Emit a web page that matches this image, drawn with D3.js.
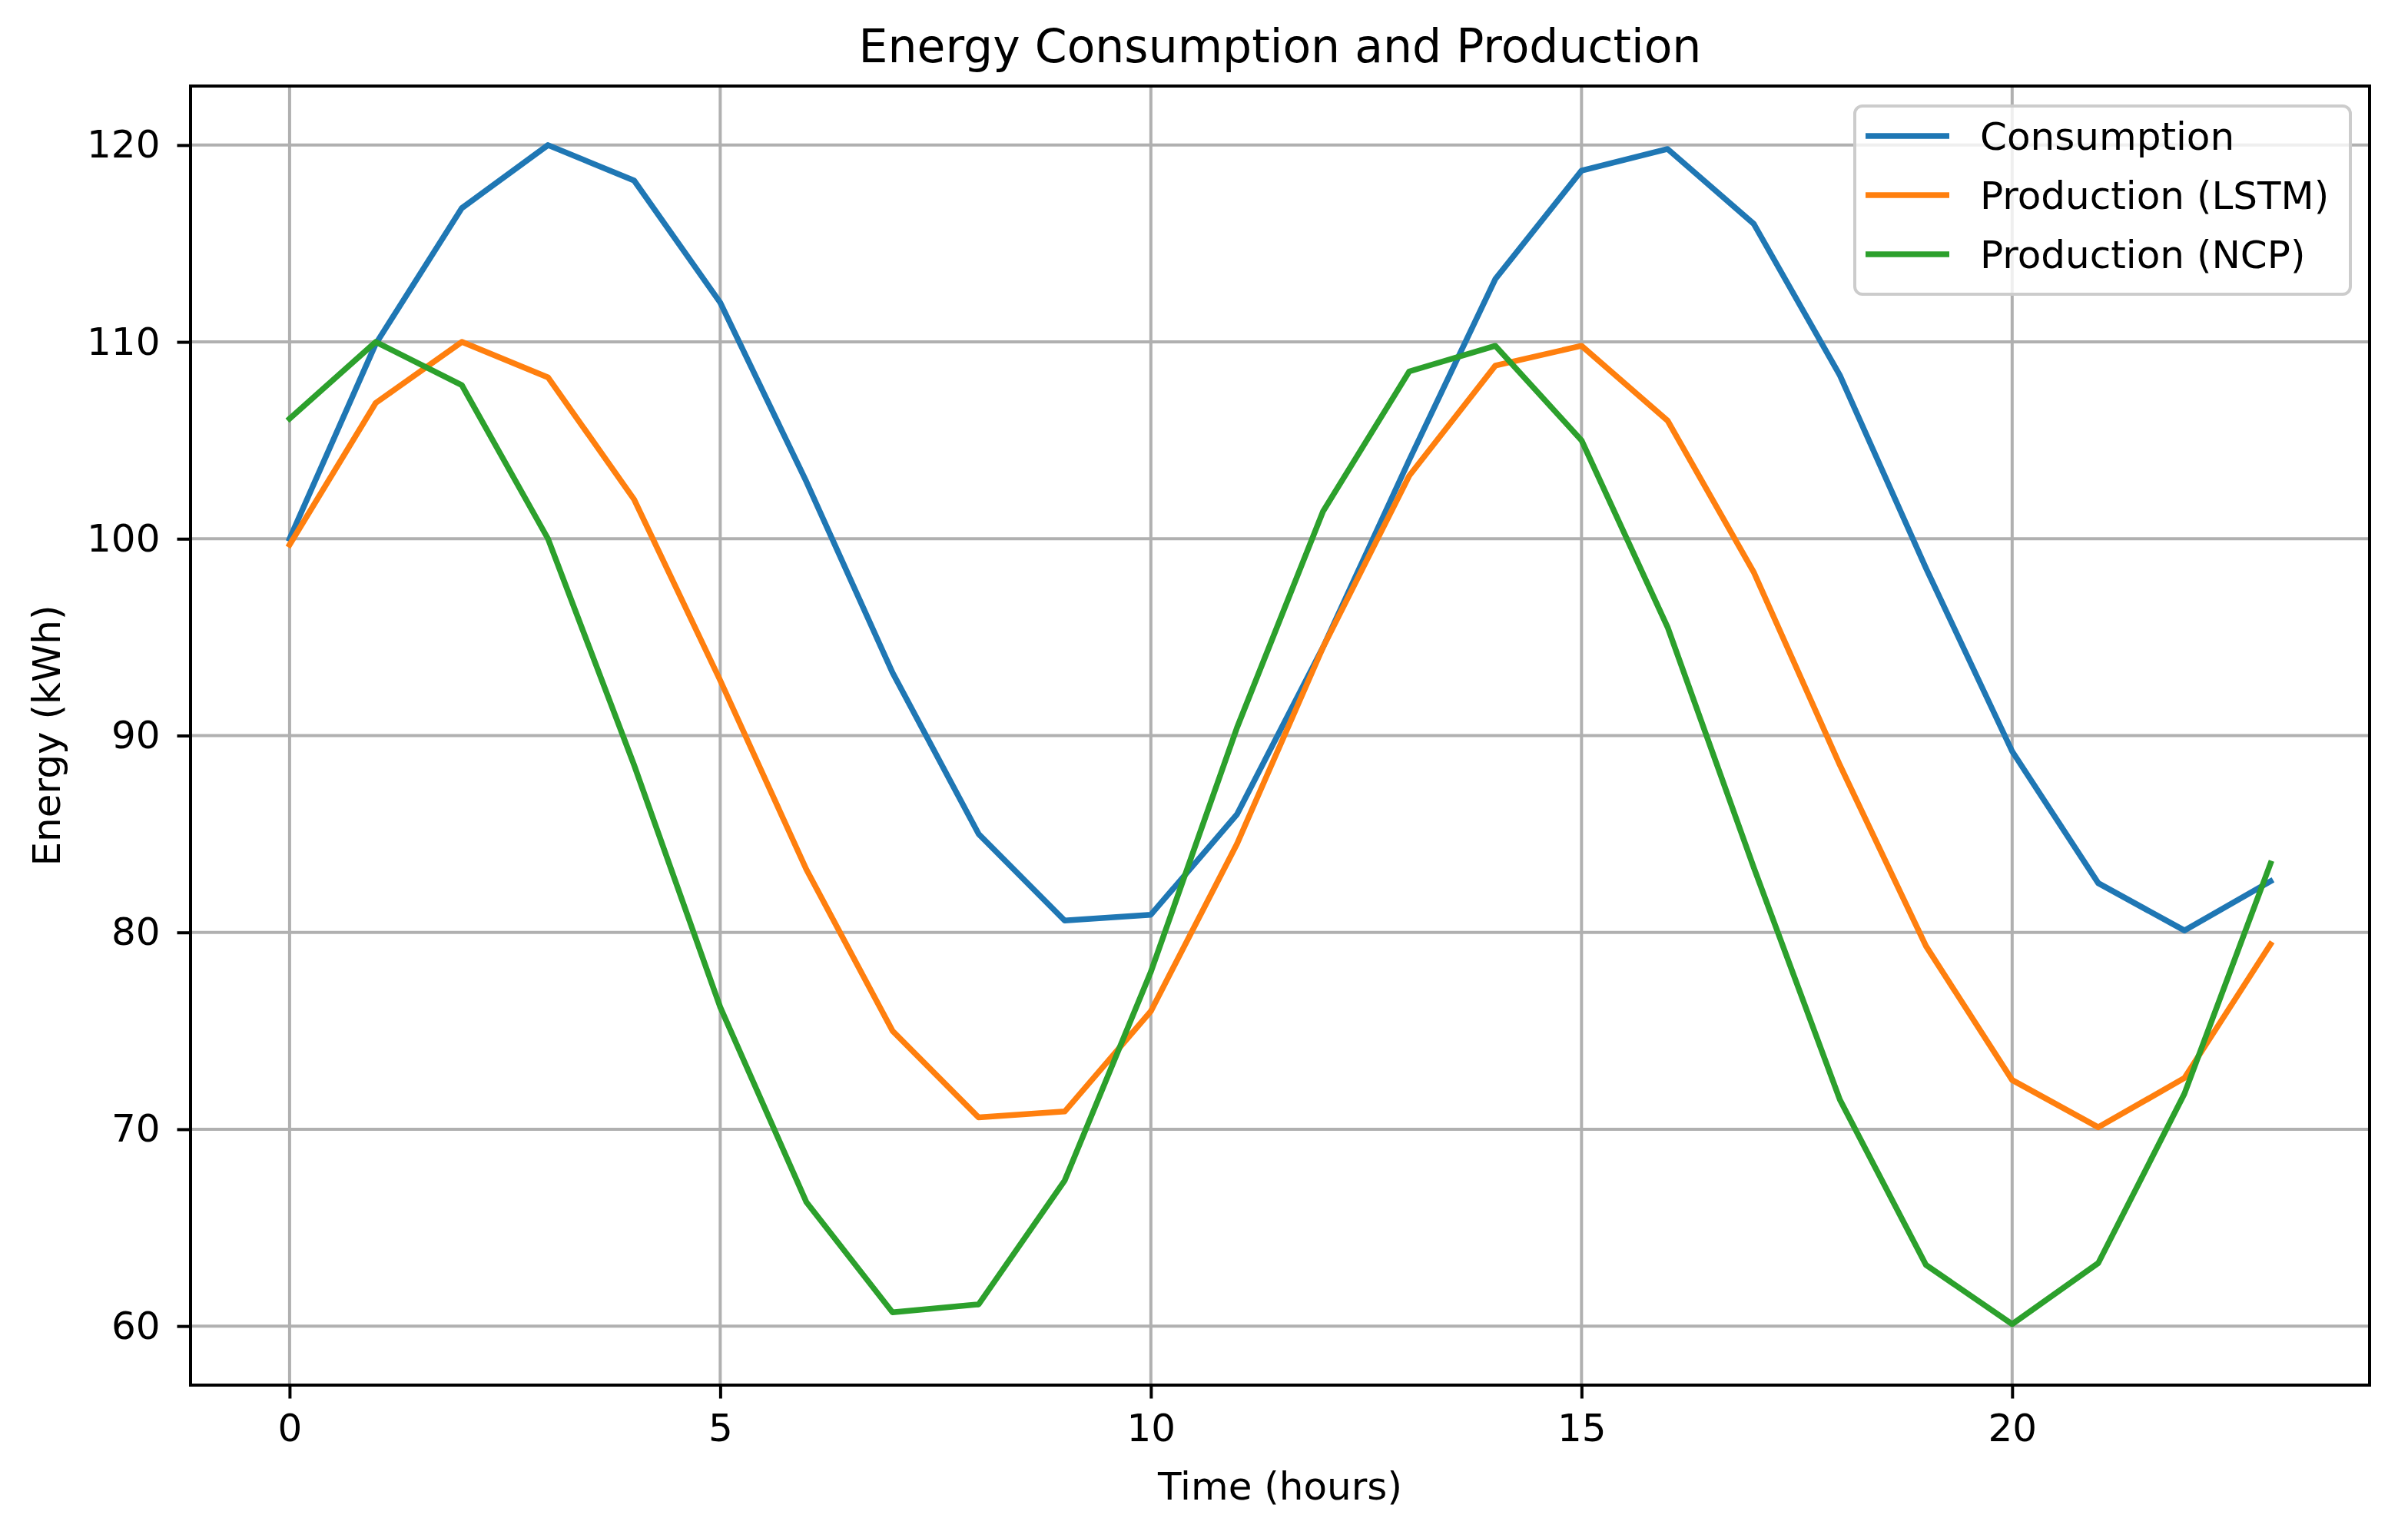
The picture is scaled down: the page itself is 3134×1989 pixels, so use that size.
<!DOCTYPE html>
<html>
<head>
<meta charset="utf-8">
<script src="https://cdn.jsdelivr.net/npm/d3@7"></script>
<style>
  body { margin: 0; background: #fff; }
  text { font-family: "DejaVu Sans", sans-serif; fill: #000; }
</style>
</head>
<body>
<div id="chart"></div>
<script>
const hours = d3.range(0, 24);
const consumption = [100, 109.9, 116.8, 120, 118.2, 112, 102.9, 93.2, 85, 80.6, 80.9, 86,
  94.5, 104, 113.2, 118.7, 119.8, 116, 108.3, 98.5, 89.2, 82.5, 80.1, 82.6];
const productionLSTM = [99.7, 106.9, 110, 108.2, 102, 92.8, 83.2, 75, 70.6, 70.9, 76, 84.5,
  94.5, 103.2, 108.8, 109.8, 106, 98.3, 88.5, 79.3, 72.5, 70.1, 72.6, 79.4];
const productionNCP = [106.1, 110, 107.8, 100, 88.5, 76.2, 66.3, 60.7, 61.1, 67.4, 78, 90.4,
  101.4, 108.5, 109.8, 105, 95.5, 83.3, 71.5, 63.1, 60.1, 63.2, 71.8, 83.5];
const seriesNames = ["Consumption", "Production (LSTM)", "Production (NCP)"];
const seriesColors = ["#1f77b4", "#ff7f0e", "#2ca02c"];
const xTicks = [0, 5, 10, 15, 20];
const yTicks = [60, 70, 80, 90, 100, 110, 120];

const width = 3134, height = 1989;
const margin = { left: 248, right: 50, top: 112, bottom: 186 };

const svg = d3.select("#chart")
  .append("svg")
  .attr("width", width)
  .attr("height", height);

const x = d3.scaleLinear().domain([-1.15, 24.15]).range([margin.left, width - margin.right]);
const y = d3.scaleLinear().domain([57, 123]).range([height - margin.bottom, margin.top]);

// grid
svg.append("g")
  .selectAll("line")
  .data(xTicks)
  .enter()
  .append("line")
  .attr("x1", d => x(d)).attr("x2", d => x(d))
  .attr("y1", margin.top).attr("y2", height - margin.bottom)
  .attr("stroke", "#b0b0b0").attr("stroke-width", 4);

svg.append("g")
  .selectAll("line")
  .data(yTicks)
  .enter()
  .append("line")
  .attr("x1", margin.left).attr("x2", width - margin.right)
  .attr("y1", d => y(d)).attr("y2", d => y(d))
  .attr("stroke", "#b0b0b0").attr("stroke-width", 4);

// lines
const series = [consumption, productionLSTM, productionNCP];
const line = d3.line().x((d, i) => x(hours[i])).y(d => y(d));

svg.append("g")
  .selectAll("path")
  .data(series)
  .enter()
  .append("path")
  .attr("d", line)
  .attr("fill", "none")
  .attr("stroke", (d, i) => seriesColors[i])
  .attr("stroke-width", 7.5)
  .attr("stroke-linejoin", "round")
  .attr("stroke-linecap", "square");

// axes
const xAxis = svg.append("g")
  .attr("transform", `translate(0, ${height - margin.bottom})`)
  .call(d3.axisBottom(x).tickValues(xTicks).tickSize(17.5).tickPadding(20));

const yAxis = svg.append("g")
  .attr("transform", `translate(${margin.left}, 0)`)
  .call(d3.axisLeft(y).tickValues(yTicks).tickSize(17.5).tickPadding(22));

[xAxis, yAxis].forEach(a => {
  a.select(".domain").remove();
  a.selectAll(".tick line").attr("stroke", "#000").attr("stroke-width", 4);
  a.selectAll(".tick text").style("font-size", "50px").style("font-family", "DejaVu Sans");
});

// frame
svg.append("rect")
  .attr("x", margin.left).attr("y", margin.top)
  .attr("width", width - margin.right - margin.left)
  .attr("height", height - margin.bottom - margin.top)
  .attr("fill", "none").attr("stroke", "#000").attr("stroke-width", 4);

// title and labels
svg.append("text")
  .attr("text-anchor", "middle")
  .attr("x", (margin.left + width - margin.right) / 2)
  .attr("y", 81)
  .style("font-size", "60px")
  .text("Energy Consumption and Production");

svg.append("text")
  .attr("text-anchor", "middle")
  .attr("x", (margin.left + width - margin.right) / 2)
  .attr("y", 1952)
  .style("font-size", "50px")
  .text("Time (hours)");

svg.append("text")
  .attr("text-anchor", "middle")
  .attr("transform", `translate(78, ${(margin.top + height - margin.bottom) / 2}) rotate(-90)`)
  .style("font-size", "50px")
  .text("Energy (kWh)");

// legend
const legend = svg.append("g").attr("transform", "translate(2414, 138)");
legend.append("rect")
  .attr("width", 645).attr("height", 245)
  .attr("rx", 10).attr("ry", 10)
  .attr("fill", "#fff").attr("fill-opacity", 0.8)
  .attr("stroke", "#cccccc").attr("stroke-width", 4);

const items = legend.selectAll(".item")
  .data(seriesNames)
  .enter()
  .append("g")
  .attr("transform", (d, i) => `translate(0, ${39 + i * 77})`);

items.append("line")
  .attr("x1", 14).attr("x2", 123)
  .attr("stroke", (d, i) => seriesColors[i])
  .attr("stroke-width", 7.5);

items.append("text")
  .attr("x", 163)
  .attr("dy", "0.35em")
  .style("font-size", "50px")
  .text(d => d);
</script>
</body>
</html>
